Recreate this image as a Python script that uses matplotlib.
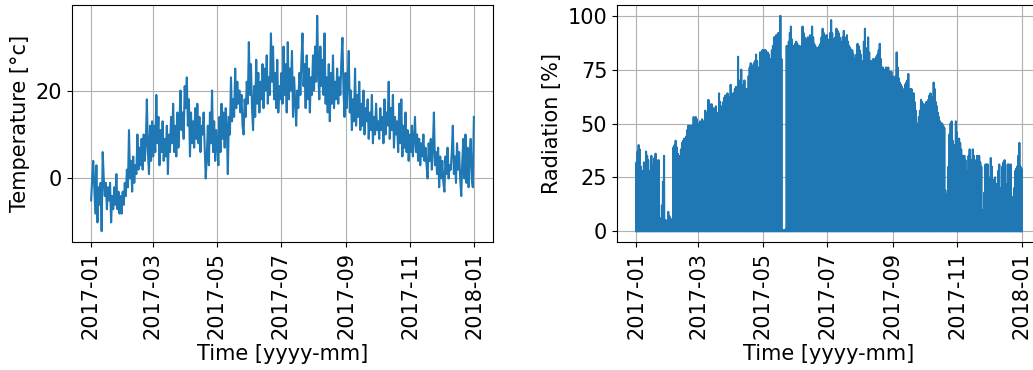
import numpy as np
import pandas as pd
import matplotlib
matplotlib.use('Agg')
from matplotlib import pyplot as plt
import matplotlib.dates as mdates

# daily temperature readings (alternating night / day), one row per month
temp_jan = [-5, 0, 4, -2, -8, 3, -10, -2, -6, -1, -12, 6, 0, -4, -1, -7, -2, -5, -1, -10, -4, -7, -2, -6, 1, -7, -3, -8, -4, -8, -3]
temp_feb = [-6, -1, -4, 2, -2, 11, 0, 4, -3, 5, -1, 3, 1, 10, 2, 7, 3, 9, 2, 10, 4, 8, 18, 6, 1, 12, 4, 13]
temp_mar = [5, 12, 6, 19, 8, 14, 3, 11, 6, 13, 4, 9, 5, 12, 1, 10, 6, 14, 8, 17, 6, 12, 5, 15, 7, 13, 20, 11, 15, 9, 21]
temp_apr = [16, 23, 12, 18, 5, 15, 8, 13, 7, 16, 9, 17, 8, 14, 6, 12, 10, 15, 7, 0, 5, 12, 3, 15, 8, 20, 6, 13, 4, 11]
temp_may = [8, 3, 14, 6, 17, 9, 15, 7, 16, 12, 1, 14, 10, 23, 13, 18, 14, 25, 16, 22, 17, 20, 15, 19, 12, 10, 18, 14, 22, 17, 31]
temp_jun = [19, 26, 16, 11, 21, 14, 27, 17, 24, 15, 22, 18, 26, 16, 25, 20, 28, 17, 23, 19, 33, 22, 30, 18, 24, 16, 27, 15, 21, 18]
temp_jul = [24, 17, 30, 19, 26, 15, 31, 18, 25, 20, 29, 14, 23, 18, 12, 20, 16, 24, 19, 27, 33, 21, 26, 16, 28, 18, 25, 15, 23, 19, 28]
temp_aug = [20, 30, 22, 37, 24, 18, 30, 21, 27, 19, 33, 17, 23, 15, 26, 13, 24, 17, 28, 16, 22, 18, 25, 17, 23, 19, 27, 32, 20, 14, 24]
temp_sep = [16, 22, 29, 15, 20, 11, 18, 13, 25, 12, 19, 14, 22, 11, 17, 12, 20, 10, 16, 13, 18, 9, 15, 11, 19, 8, 14, 10, 17, 11]
temp_oct = [13, 9, 16, 11, 14, 8, 18, 10, 15, 12, 22, 9, 16, 11, 19, 7, 14, 10, 13, 6, 17, 8, 18, 5, 12, 7, 15, 6, 11, 4, 10]
temp_nov = [6, 12, 5, 9, 14, 6, 10, 4, 9, 3, 8, 5, 10, 4, 7, 3, 0, 8, 4, 9, 2, 7, 15, 3, 6, 1, 7, -2, 5, 0]
temp_dec = [4, -1, -3, 5, 1, 7, 0, 3, 2, 6, 12, 1, 5, -1, 8, 2, 6, 0, -4, 4, 9, 0, 10, -1, 7, -2, 5, 9, 0, -2, 14]

# daily peak radiation [%], one row per month
rad_jan = [32, 37, 40, 38, 30, 25, 28, 32, 16, 37, 35, 33, 28, 15, 35, 30, 31, 34, 36, 33, 30, 33, 0, 6, 12, 23, 35, 5, 5, 4, 9]
rad_feb = [7, 6, 5, 0, 39, 40, 42, 39, 36, 35, 34, 38, 41, 42, 43, 31, 44, 47, 49, 48, 49, 48, 49, 53, 52, 53, 52, 50]
rad_mar = [49, 51, 50, 52, 51, 49, 56, 54, 55, 61, 59, 58, 59, 57, 57, 56, 58, 55, 25, 64, 60, 52, 58, 60, 62, 63, 63, 64, 62, 62, 68]
rad_apr = [64, 62, 64, 66, 67, 65, 81, 62, 70, 75, 66, 68, 70, 59, 66, 66, 72, 76, 78, 77, 75, 78, 79, 82, 79, 76, 75, 83, 83, 84]
rad_may = [84, 84, 84, 60, 83, 82, 80, 75, 84, 86, 90, 90, 91, 91, 92, 92, 100, 80, 0, 0.5, 0.5, 1, 86, 86, 88, 92, 95, 89, 86, 84, 87]
rad_jun = [88, 87, 86, 86, 72, 86, 95, 92, 90, 88, 89, 90, 89, 91, 88, 95, 90, 87, 86, 84, 85, 85, 86, 87, 90, 94, 92, 91, 89, 91]
rad_jul = [89, 86, 92, 98, 92, 89, 87, 90, 94, 93, 92, 90, 88, 87, 90, 93, 90, 89, 91, 88, 86, 85, 84, 84, 82, 80, 77, 82, 87, 86, 84]
rad_aug = [82, 79, 77, 88, 94, 85, 66, 90, 83, 78, 79, 79, 80, 79, 80, 81, 82, 84, 87, 80, 76, 76, 75, 75, 76, 75, 76, 74, 74, 74, 72]
rad_sep = [71, 71, 72, 83, 76, 71, 69, 68, 67, 66, 37, 68, 69, 70, 73, 16, 66, 66, 64, 64, 60, 56, 47, 50, 53, 56, 61, 60, 59, 58]
rad_oct = [59, 60, 60, 61, 63, 64, 62, 62, 69, 66, 60, 58, 55, 53, 51, 50, 50, 49, 48, 19, 17, 14, 30, 45, 50, 51, 42, 30, 40, 51, 46]
rad_nov = [38, 43, 41, 38, 35, 35, 35, 33, 28, 24, 35, 38, 26, 33, 38, 35, 32, 33, 35, 34, 35, 32, 30, 8, 10, 18, 31, 31, 31, 25]
rad_dec = [12, 34, 30, 21, 24, 25, 22, 16, 28, 31, 20, 16, 30, 32, 33, 22, 14, 31, 31, 30, 31, 12, 16, 20, 28, 29, 30, 35, 41, 30, 29]

temperature = np.array(temp_jan + temp_feb + temp_mar + temp_apr + temp_may + temp_jun +
                       temp_jul + temp_aug + temp_sep + temp_oct + temp_nov + temp_dec, dtype=float)
radiation = np.array(rad_jan + rad_feb + rad_mar + rad_apr + rad_may + rad_jun +
                     rad_jul + rad_aug + rad_sep + rad_oct + rad_nov + rad_dec, dtype=float)

days = pd.date_range('2017-01-01', periods=len(temperature), freq='D')

# radiation is zero at night: morning 0, midday peak, evening 0
rad_time = np.column_stack([days + pd.Timedelta(hours=6),
                            days + pd.Timedelta(hours=12),
                            days + pd.Timedelta(hours=18)]).ravel()
rad_vals = np.column_stack([np.zeros_like(radiation), radiation, np.zeros_like(radiation)]).ravel()

plt.rcParams['font.size'] = 15

fig = plt.figure(figsize=(10.33, 3.7), dpi=100)
ax1 = fig.add_axes([72/1033, 128/370, 421/1033, 237/370])
ax2 = fig.add_axes([617/1033, 128/370, 424/1033, 237/370])

ax1.plot(days + pd.Timedelta(hours=12), temperature, color='#1f77b4', lw=1.5)
ax1.set_ylabel('Temperature [°c]')

ax2.plot(rad_time, rad_vals, color='#1f77b4', lw=1.5)
ax2.set_ylabel('Radiation [%]')
ax2.set_yticks([0, 25, 50, 75, 100])

for ax in (ax1, ax2):
    ax.xaxis.set_major_locator(mdates.MonthLocator(bymonth=[1, 3, 5, 7, 9, 11]))
    ax.xaxis.set_major_formatter(mdates.DateFormatter('%Y-%m'))
    ax.tick_params(axis='x', labelrotation=90)
    ax.set_xlabel('Time [yyyy-mm]')
    ax.grid(True)

ax1.set_yticks([0, 20])

fig.savefig('out.png', dpi=100)
